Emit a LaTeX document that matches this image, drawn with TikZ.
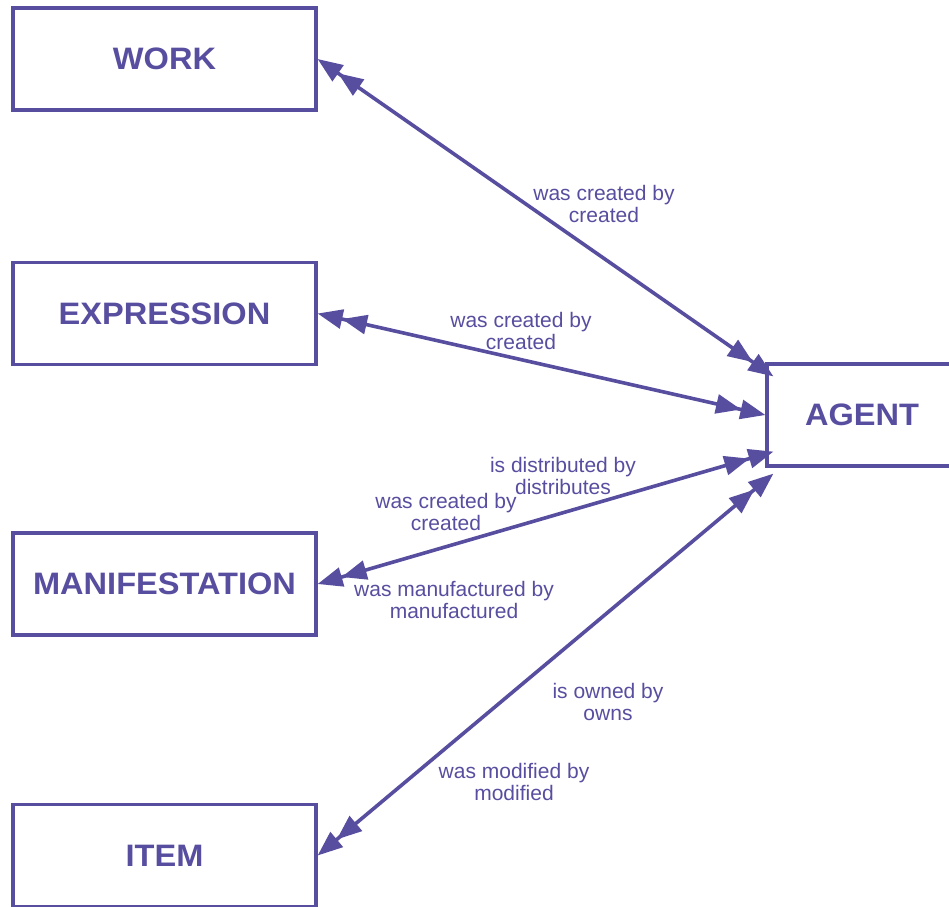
\documentclass[tikz,border=0pt]{standalone}
\usepackage{fontspec}
\setmainfont{Liberation Sans}
\usetikzlibrary{arrows.meta,calc}
\definecolor{ink}{RGB}{88,78,160}
\begin{document}
\begin{tikzpicture}[x=1pt,y=-1pt,
  box/.style={draw=ink, line width=3.2pt, minimum width=303pt, minimum height=102pt, inner sep=0pt,
    font=\fontsize{31}{36}\selectfont\bfseries\addfontfeatures{FakeStretch=1.05}, text=ink},
  head/.tip={Triangle[length=25pt,width=19pt]Triangle[length=25pt,width=19pt]},
  link/.style={draw=ink, line width=3.6pt, head-head},
  lab/.style={font=\fontsize{21}{22}\selectfont, text=ink, align=center, inner sep=0pt}]
\useasboundingbox (0,0) rectangle (949,906);
\fill[white] (0,0) rectangle (949,906);
\node[box] (work) at (164.5,59) {WORK};
\node[box] (expr) at (164.5,313.5) {EXPRESSION};
\node[box] (manif) at (164.5,584) {MANIFESTATION};
\node[box] (item) at (164.5,855.5) {ITEM};
\node[box, minimum width=190pt] (agent) at (862,415) {AGENT};

\coordinate (aw) at ($(agent.north west)+(8,14)$);
\coordinate (am) at ($(agent.south west)+(8,-16)$);
\coordinate (ai) at ($(agent.south west)+(8,6)$);

\draw[link] (work.east) -- (aw);
\draw[link] (expr.east) -- (agent.west);
\draw[link] (manif.east) -- (am);
\draw[link] (item.east) -- (ai);

\node[lab] (l1) at (604,204) {was created by\\created};
\node[lab] (l2) at (521,331) {was created by\\created};
\node[lab] (l3) at (563,476) {is distributed by\\distributes};
\node[lab] (l4) at (446,512) {was created by\\created};
\node[lab] (l5) at (454,600) {was manufactured by\\manufactured};
\node[lab] (l6) at (608,702) {is owned by\\owns};
\node[lab] (l7) at (514,782) {was modified by\\modified};
\end{tikzpicture}
\end{document}
